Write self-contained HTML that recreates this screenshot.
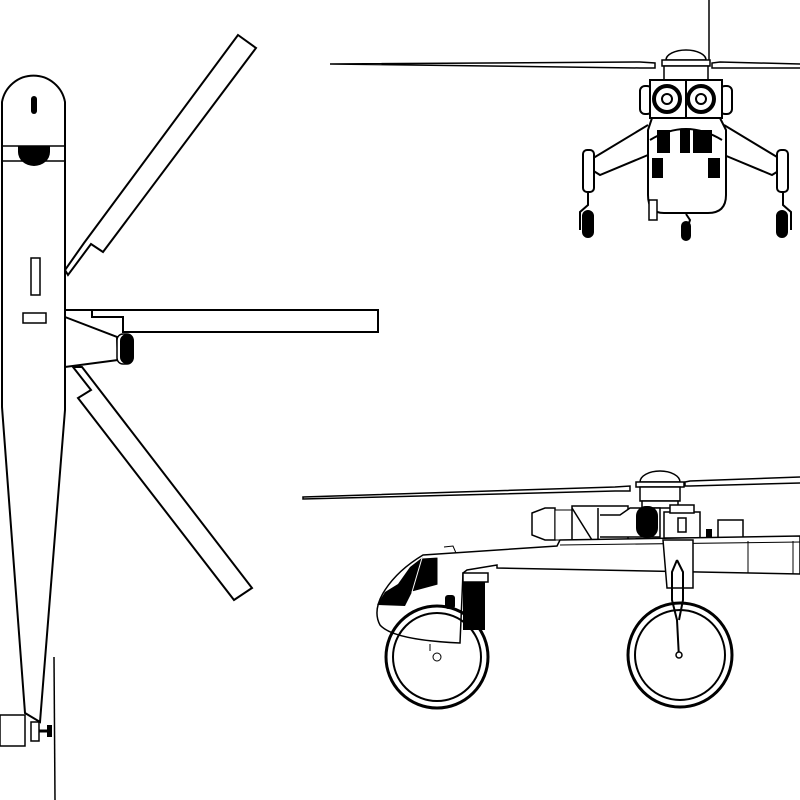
<!DOCTYPE html>
<html><head><meta charset="utf-8"><style>html,body{margin:0;padding:0;background:#fff}svg{display:block}</style></head>
<body>
<svg width="800" height="800" viewBox="0 0 800 800" xmlns="http://www.w3.org/2000/svg" fill="#fff" stroke="#000" stroke-width="2" stroke-linejoin="miter">
<!-- TOP VIEW -->
<polygon points="238,35 256,48 103,252 91,244 68,275 65,270 84,243"/>
<polygon points="82,367 252,588 234,600 78,398 91,390 73,367"/>
<polygon points="65,310 378,310 378,332 123,332 123,317 92,317 92,310"/>
<path d="M2,102 A32,32 0 0 1 65,102 L65,410 L40,722 L25,713 L2,407 Z"/>
<polygon points="65,317 117,337 118,360 65,367"/>
<rect x="117" y="334" width="16" height="30" rx="6" fill="#fff" stroke-width="1.5"/>
<rect x="121" y="335" width="12" height="28" rx="6" fill="#000"/>
<rect x="31" y="96" width="6" height="18" rx="3" fill="#000" stroke="none"/>
<line x1="2" y1="146" x2="65" y2="146" stroke-width="1.5"/>
<line x1="2" y1="161" x2="65" y2="161" stroke-width="1.5"/>
<path d="M18,146 L50,146 L50,152 A16,14 0 0 1 18,152 Z" fill="#000" stroke="none"/>
<rect x="31" y="258" width="9" height="37" stroke-width="1.5"/>
<rect x="23" y="313" width="23" height="10" stroke-width="1.5"/>
<rect x="0" y="715" width="25" height="31" stroke-width="1.5"/>
<rect x="31" y="722" width="8" height="19" stroke-width="1.5"/>
<line x1="39" y1="731" x2="50" y2="731" stroke-width="3"/>
<rect x="47" y="725" width="5" height="12" fill="#000" stroke="none"/>
<line x1="54" y1="657" x2="55" y2="800" stroke-width="1.5"/>
<!-- FRONT VIEW -->
<line x1="709" y1="0" x2="709" y2="62" stroke-width="1.5"/>
<path d="M330,64 L640,62 L655,63 L655,68 L640,68 Z" stroke-width="1.5"/>
<path d="M800,64 L720,62 L712,63 L712,68 L720,68 L800,68" stroke-width="1.5"/>
<path d="M666,60 A20,10 0 0 1 706,60 Z" stroke-width="1.5"/>
<rect x="662" y="60" width="48" height="6" stroke-width="1.5"/>
<rect x="664" y="66" width="44" height="14" stroke-width="1.5"/>
<rect x="640" y="86" width="12" height="28" rx="5"/>
<rect x="720" y="86" width="12" height="28" rx="5"/>
<rect x="650" y="80" width="36" height="38"/>
<rect x="686" y="80" width="36" height="38"/>
<circle cx="667" cy="99" r="13" stroke-width="4"/><circle cx="667" cy="99" r="5"/>
<circle cx="701" cy="99" r="13" stroke-width="4"/><circle cx="701" cy="99" r="5"/>
<polyline points="648,125 590,160 592,170 600,175 648,155"/>
<polyline points="724,125 782,160 780,170 772,175 724,155"/>
<rect x="583" y="150" width="11" height="42" rx="4"/>
<rect x="777" y="150" width="11" height="42" rx="4"/>
<path d="M588,192 L588,205 L580,212 L580,230" fill="none"/>
<path d="M783,192 L783,205 L791,212 L791,230" fill="none"/>
<rect x="583" y="211" width="10" height="26" rx="5" fill="#000"/>
<rect x="777" y="211" width="10" height="26" rx="5" fill="#000"/>
<path d="M652,118 L720,118 L726,130 L726,195 Q726,213 708,213 L664,213 Q648,213 648,195 L648,130 Z"/>
<path d="M650,140 Q686,118 722,140" fill="none"/>
<rect x="657" y="130" width="13" height="23" fill="#000" stroke="none"/>
<rect x="680" y="130" width="10" height="23" fill="#000" stroke="none"/>
<rect x="693" y="130" width="19" height="23" fill="#000" stroke="none"/>
<rect x="652" y="158" width="11" height="20" fill="#000" stroke="none"/>
<rect x="708" y="158" width="12" height="20" fill="#000" stroke="none"/>
<rect x="649" y="200" width="8" height="20" stroke-width="1.5"/>
<path d="M686,214 L690,220 L688,226" fill="none"/>
<rect x="682" y="222" width="8" height="18" rx="4" fill="#000"/>
<!-- SIDE VIEW -->
<path d="M303,497 L615,487 L630,486 L630,491 L615,491 L303,499 Z" stroke-width="1.5"/>
<path d="M800,477 L690,481 L685,482 L685,486 L690,486 L800,483" stroke-width="1.5"/>
<path d="M640,482 A20,11 0 0 1 680,482 Z" stroke-width="1.5"/>
<rect x="636" y="482" width="48" height="5" stroke-width="1.5"/>
<rect x="640" y="487" width="40" height="14" stroke-width="1.5"/>
<rect x="642" y="501" width="36" height="7" stroke-width="1.5"/>
<!-- engine -->
<path d="M532,513 L545,508 L555,508 L555,540 L545,540 L532,535 Z" stroke-width="1.5"/>
<rect x="555" y="510" width="17" height="30" stroke-width="1"/>
<rect x="572" y="506" width="56" height="36" stroke-width="1.5"/>
<line x1="572" y1="508" x2="592" y2="540" stroke-width="1.5"/>
<line x1="598" y1="508" x2="598" y2="540" stroke-width="1.5"/>
<path d="M600,515 L620,515 L630,508 L660,508 L660,537 L600,537" stroke-width="1.5"/>
<rect x="637" y="507" width="20" height="30" rx="9" fill="#000"/>
<rect x="664" y="512" width="36" height="26" stroke-width="1.5"/>
<rect x="670" y="505" width="24" height="8" stroke-width="1.5"/>
<rect x="678" y="518" width="8" height="14" stroke-width="1.5"/>
<rect x="718" y="520" width="25" height="18" stroke-width="1.5"/>
<rect x="706" y="529" width="6" height="8" fill="#000" stroke="none"/>
<!-- fuselage -->
<path d="M423,555 L557,546 L560,540 L800,536 L800,574 L497,568 L497,565 L467,570 L463,573 L460,643 Q393,640 380,625 Q372,610 385,590 Q398,570 423,555 Z" stroke-width="1.5"/>
<line x1="560" y1="545" x2="800" y2="542" stroke-width="1"/>
<line x1="748" y1="541" x2="748" y2="573" stroke-width="1"/>
<line x1="793" y1="541" x2="793" y2="574" stroke-width="1"/>
<path d="M444,547 L453,546 L456,553" fill="none" stroke-width="1"/>
<polygon points="423,557 410,567 398,584 385,592 377,605 405,606 412,592" fill="#000" stroke="none"/>
<polygon points="422,558 438,557 438,585 412,592" fill="#000" stroke="#fff" stroke-width="1"/>
<rect x="463" y="573" width="22" height="57" fill="#000" stroke="none"/>
<rect x="463" y="573" width="25" height="9" stroke-width="1.5"/>
<rect x="445" y="595" width="10" height="14" rx="3" fill="#000" stroke="none"/>
<!-- rear strut -->
<polygon points="663,540 693,540 693,588 667,588" stroke-width="1.5"/>
<path d="M677,560 L672,572 L672,600 L677,620 L679,658" fill="none" stroke-width="2"/>
<path d="M677,560 L683,572 L683,600 L679,620" fill="none" stroke-width="2"/>
<!-- wheels -->
<circle cx="437" cy="657" r="51" fill="none" stroke-width="3"/>
<circle cx="437" cy="657" r="44" fill="none" stroke-width="2"/>
<circle cx="437" cy="657" r="4" stroke-width="1"/>
<line x1="430" y1="644" x2="430" y2="651" stroke-width="1"/>
<circle cx="680" cy="655" r="52" fill="none" stroke-width="3"/>
<circle cx="680" cy="655" r="45" fill="none" stroke-width="2"/>
<circle cx="679" cy="655" r="3" stroke-width="1.5"/>
</svg>
</body></html>
